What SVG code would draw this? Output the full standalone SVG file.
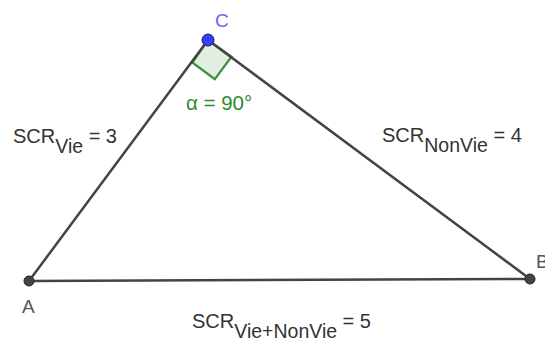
<svg xmlns="http://www.w3.org/2000/svg" width="545" height="342" viewBox="0 0 545 342">
<style>
.lbl{font-family:"Liberation Sans",Arial,sans-serif;font-size:20px;fill:#333}
.sub{font-size:19.5px}
.pt{font-family:"Liberation Sans",Arial,sans-serif;font-size:19px;fill:#555}
.seg{stroke:#444;stroke-width:2.5;fill:none;stroke-linecap:round}
</style>
<rect width="545" height="342" fill="#fff"/>
<g id="angle">
<polygon points="208,40 192.3,62.5 214.8,79.2 231.5,56.7" fill="#e3eee3" stroke="#3a8f3a" stroke-width="2.2" stroke-linejoin="miter"/>
<text x="186" y="110" font-family="Liberation Sans,Arial,sans-serif" font-size="20.5" fill="#2e8b2e">α = 90°</text>
</g>
<g id="connectors">
<line class="seg" x1="29" y1="281" x2="208" y2="40"/>
<line class="seg" x1="208" y1="40" x2="530" y2="279"/>
<line class="seg" x1="29" y1="281" x2="530" y2="279"/>
</g>
<g id="A">
<circle cx="29" cy="281" r="5" fill="#444" stroke="#222" stroke-width="1"/>
<text class="pt" x="22" y="313">A</text>
</g>
<g id="B">
<circle cx="530" cy="279" r="5" fill="#444" stroke="#222" stroke-width="1"/>
<text class="pt" x="536" y="268">B</text>
</g>
<g id="C">
<circle cx="208" cy="40" r="6" fill="#3d3dff" stroke="#1a1a66" stroke-width="1"/>
<text x="215" y="27" font-family="Liberation Sans,Arial,sans-serif" font-size="19" fill="#6666ff">C</text>
</g>
<g id="label-vie">
<text class="lbl" x="13" y="143">SCR<tspan class="sub" dy="10">Vie</tspan><tspan dy="-10"> = 3</tspan></text>
</g>
<g id="label-nonvie">
<text class="lbl" x="382" y="142">SCR<tspan class="sub" dy="10">NonVie</tspan><tspan dy="-10"> = 4</tspan></text>
</g>
<g id="label-total">
<text class="lbl" x="192" y="328">SCR<tspan class="sub" dy="10">Vie+NonVie</tspan><tspan dy="-10"> = 5</tspan></text>
</g>
</svg>
